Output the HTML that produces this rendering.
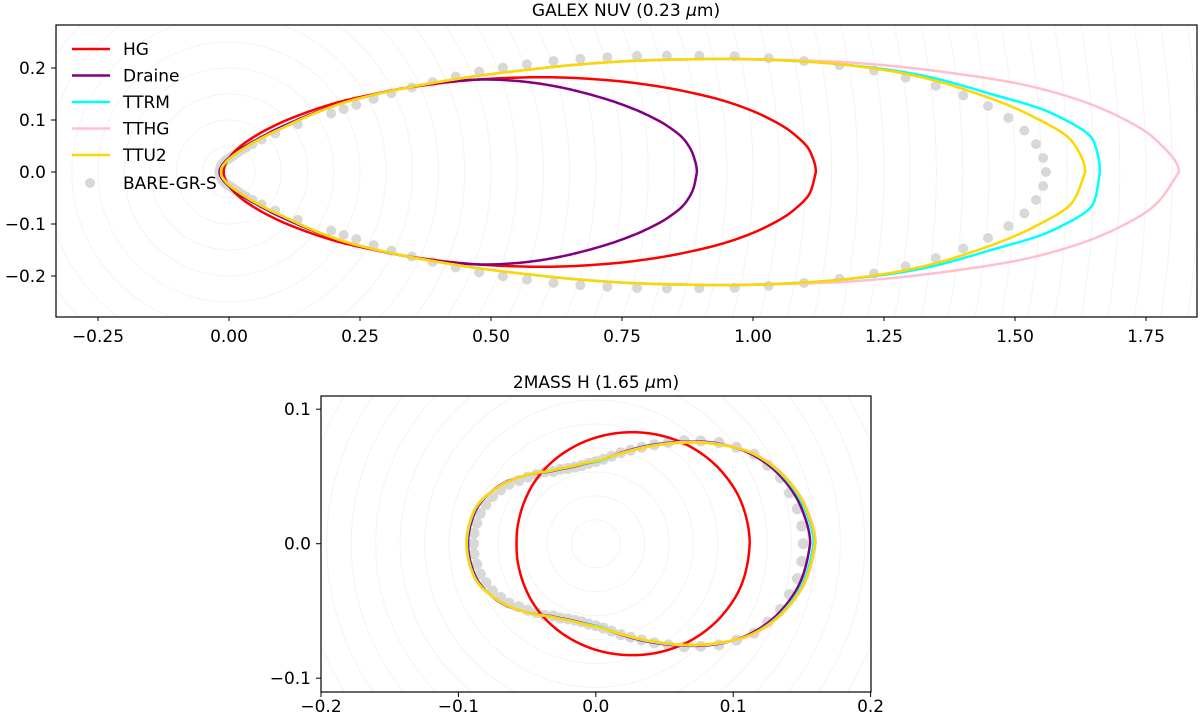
<!DOCTYPE html>
<html><head><meta charset="utf-8"><style>
html,body{margin:0;padding:0;background:#fff;overflow:hidden;width:1200px;height:719px;}
svg{display:block;font-family:"DejaVu Sans","Liberation Sans",sans-serif;}
</style></head><body>
<svg id="fig" width="1200" height="719" viewBox="0 0 1200 719" xmlns="http://www.w3.org/2000/svg">
<defs>
<clipPath id="clipTop"><rect x="56" y="25" width="1141" height="292"/></clipPath>
<clipPath id="clipBot"><rect x="321" y="396" width="550" height="296"/></clipPath>
</defs>
<text x="626" y="16" text-anchor="middle" font-size="17">GALEX NUV (0.23 <tspan font-style="italic">μ</tspan>m)</text>
<text x="596" y="388" text-anchor="middle" font-size="17">2MASS H (1.65 <tspan font-style="italic">μ</tspan>m)</text>
<g id="topGrid" clip-path="url(#clipTop)"></g>
<g id="botGrid" clip-path="url(#clipBot)"></g>
<g id="topMarks" clip-path="url(#clipTop)"></g>
<g id="botMarks" clip-path="url(#clipBot)"></g>
<rect x="56" y="25" width="1141" height="292" fill="none" stroke="#000" stroke-width="1.2"/>
<rect x="321" y="396" width="550" height="296" fill="none" stroke="#000" stroke-width="1.2"/>
<g id="ticks" font-size="17"></g>
<g id="legend" font-size="17"></g>
</svg>
<script>
// ---- Top panel data (GALEX NUV), radius vs scattering angle (deg) ----
const topAngles = [0,2,4,6,8,10,12,15,20,25,30,40,50,60,75,90,120,150,180];
const topHG     = [1.12,1.11,1.078,1.027,0.963,0.888,0.811,0.696,0.523,0.387,0.288,0.166,0.102,0.0676,0.0404,0.027,0.0153,0.0112,0.0101];
const topDraine = [0.893,0.887,0.872,0.842,0.802,0.757,0.71,0.64,0.52,0.39,0.28,0.14,0.08,0.055,0.035,0.027,0.02,0.018,0.018];
const topTTRM   = [1.662,1.652,1.58,1.455,1.335,1.19,1.04,0.83,0.56,0.39,0.28,0.13,0.075,0.05,0.033,0.025,0.018,0.016,0.015];
const topTTHG   = [1.813,1.77,1.68,1.55,1.38,1.21,1.04,0.83,0.56,0.39,0.28,0.13,0.075,0.05,0.033,0.025,0.018,0.016,0.015];
const topTTU2   = [1.634,1.612,1.537,1.437,1.325,1.19,1.04,0.83,0.56,0.39,0.28,0.13,0.075,0.05,0.033,0.025,0.018,0.016,0.015];
const topDotAngles = [0,1,2,3,4,5,6,7,8,9,10,11,12,13,14,15,16,17,18,19,20,21,22,23,24,25,26,27,28,29,30,35,40,45,50,55,60,65,70,75,80,85,90,95,100,105,110,115,120,125,130,135,140,145,150,155,160,165,170,175,180];
const topDots = [1.559,1.554,1.541,1.52,1.491,1.454,1.409,1.359,1.304,1.246,1.183,1.118,1.053,0.99,0.925,0.865,0.81,0.755,0.705,0.655,0.605,0.56,0.515,0.47,0.425,0.385,0.345,0.31,0.275,0.25,0.225,0.16,0.115,0.088,0.07,0.058,0.049,0.042,0.037,0.033,0.03,0.028,0.026,0.025,0.024,0.023,0.022,0.021,0.021,0.02,0.02,0.019,0.019,0.019,0.018,0.018,0.018,0.018,0.018,0.018,0.018];

// ---- Bottom panel data (2MASS H) ----
const botAngles   = [0,10,20,30,40,50,60,75,90,105,120,135,150,165,180];
const botHGAngles = [0,15,30,45,60,75,90,105,120,135,150,165,180];
const botHG     = [0.112,0.1105,0.1063,0.1003,0.0931,0.0857,0.0789,0.0729,0.0679,0.0638,0.0605,0.0585,0.0577];
const botDraine = [0.156,0.152,0.144,0.132,0.116,0.099,0.085,0.07,0.061,0.0595,0.0625,0.072,0.0835,0.091,0.093];
const botTTRM   = [0.1585,0.154,0.1455,0.133,0.1155,0.0985,0.0845,0.0695,0.061,0.0598,0.0628,0.072,0.0832,0.0918,0.0938];
const botTTHG   = [0.16,0.1555,0.1465,0.1335,0.1155,0.0985,0.0842,0.0697,0.0615,0.06,0.063,0.0722,0.0832,0.0922,0.0942];
const botTTU2   = [0.1595,0.155,0.146,0.133,0.115,0.098,0.084,0.0695,0.0615,0.06,0.063,0.072,0.083,0.092,0.094];
const botDotAngles = [0,5,10,15,20,25,30,35,40,45,50,55,60,65,70,75,80,85,90,95,100,105,110,115,120,125,130,135,140,145,150,155,160,165,170,175,180];
const botDots = [0.151,0.1505,0.149,0.146,0.143,0.138,0.133,0.125,0.117,0.108,0.1,0.092,0.085,0.079,0.074,0.07,0.066,0.063,0.061,0.06,0.059,0.059,0.0595,0.061,0.062,0.065,0.067,0.07,0.073,0.077,0.08,0.083,0.085,0.087,0.088,0.089,0.089];

// ---- Tick labels ----
const topXTicks = [-0.25,0,0.25,0.5,0.75,1.0,1.25,1.5,1.75];
const topXLabels = ["−0.25","0.00","0.25","0.50","0.75","1.00","1.25","1.50","1.75"];
const topYTicks = [-0.2,-0.1,0,0.1,0.2];
const topYLabels = ["−0.2","−0.1","0.0","0.1","0.2"];
const botXTicks = [-0.2,-0.1,0,0.1,0.2];
const botXLabels = ["−0.2","−0.1","0.0","0.1","0.2"];
const botYTicks = [-0.1,0,0.1];
const botYLabels = ["−0.1","0.0","0.1"];
const seriesNames = ["HG","Draine","TTRM","TTHG","TTU2"];
const seriesColors = ["#ff0000","#800080","#00ffff","#ffc0cb","#ffd700"];

const NS="http://www.w3.org/2000/svg";
const topX=v=>229+v*524, topY=v=>172-v*520;
const botX=v=>595.8+v*1374, botY=v=>543.7-v*1345;

function pchip(xs,ys){
  const n=xs.length,h=[],d=[],m=new Array(n);
  for(let i=0;i<n-1;i++){h[i]=xs[i+1]-xs[i];d[i]=(ys[i+1]-ys[i])/h[i];}
  m[0]=d[0];m[n-1]=d[n-2];
  for(let i=1;i<n-1;i++){
    if(d[i-1]*d[i]<=0)m[i]=0;
    else{const w1=2*h[i]+h[i-1],w2=h[i]+2*h[i-1];m[i]=(w1+w2)/(w1/d[i-1]+w2/d[i]);}
  }
  return x=>{
    let i=0;while(i<n-2&&x>xs[i+1])i++;
    const t=(x-xs[i])/h[i],t2=t*t,t3=t2*t;
    return (2*t3-3*t2+1)*ys[i]+(t3-2*t2+t)*h[i]*m[i]+(-2*t3+3*t2)*ys[i+1]+(t3-t2)*h[i]*m[i+1];
  };
}
function symInterp(angles,vals){
  const xs=[],ys=[];
  for(let i=angles.length-1;i>0;i--){xs.push(-angles[i]);ys.push(vals[i]);}
  for(let i=0;i<angles.length;i++){xs.push(angles[i]);ys.push(vals[i]);}
  for(let i=angles.length-2;i>=0;i--){xs.push(360-angles[i]);ys.push(vals[i]);}
  return pchip(xs,ys);
}
function curvePath(angles,vals,sx,sy){
  const f=symInterp(angles,vals),pts=[];
  for(let a=0;a<360;a+=0.25)pts.push([a,f(a)]);
  return pts.map((p,i)=>{const t=p[0]*Math.PI/180;return (i?"L":"M")+sx(p[1]*Math.cos(t)).toFixed(2)+","+sy(p[1]*Math.sin(t)).toFixed(2);}).join("")+"Z";
}
function grid(g,step,max,cx,cy,kx,ky){
  for(let r=step;r<max;r+=step){
    const e=document.createElementNS(NS,"ellipse");
    
    
    e.setAttribute("cx",cx);e.setAttribute("cy",cy);e.setAttribute("rx",r*kx);e.setAttribute("ry",r*ky);
    e.setAttribute("fill","none");e.setAttribute("stroke","#f3f3f3");e.setAttribute("stroke-width","1");
    g.appendChild(e);
  }
}
grid(document.getElementById("topGrid"),0.05,2.2,topX(0),topY(0),524,520);
grid(document.getElementById("botGrid"),0.0178,0.3,botX(0),botY(0),1374,1345);

function drawDots(g,angles,vals,sx,sy,rad){
  for(let s of [1,-1]){
    for(let i=0;i<angles.length;i++){
      if(s<0&&(angles[i]===0||angles[i]===180))continue;
      const t=s*angles[i]*Math.PI/180;
      const c=document.createElementNS(NS,"circle");
      
      
      c.setAttribute("cx",sx(vals[i]*Math.cos(t)));c.setAttribute("cy",sy(vals[i]*Math.sin(t)));
      c.setAttribute("r",rad);c.setAttribute("fill","#d8d8d8");
      g.appendChild(c);
    }
  }
}
function drawCurve(g,angles,vals,sx,sy,color,name){
  const p=document.createElementNS(NS,"path");
  
  
  p.setAttribute("d",curvePath(angles,vals,sx,sy));
  p.setAttribute("fill","none");p.setAttribute("stroke",color);p.setAttribute("stroke-width","2.5");p.setAttribute("stroke-linejoin","round");
  g.appendChild(p);
}
const tg=document.getElementById("topMarks"),bg=document.getElementById("botMarks");
drawDots(tg,topDotAngles,topDots,topX,topY,5);
const topSeries=[topHG,topDraine,topTTRM,topTTHG,topTTU2];
topSeries.forEach((v,i)=>drawCurve(tg,topAngles,v,topX,topY,seriesColors[i],"top-"+seriesNames[i].toLowerCase()+"-curve"));
drawDots(bg,botDotAngles,botDots,botX,botY,5.5);
drawCurve(bg,botHGAngles,botHG,botX,botY,seriesColors[0],"bottom-hg-curve");
[botDraine,botTTRM,botTTHG,botTTU2].forEach((v,i)=>drawCurve(bg,botAngles,v,botX,botY,seriesColors[i+1],"bottom-"+seriesNames[i+1].toLowerCase()+"-curve"));

const tk=document.getElementById("ticks");
function tick(x1,y1,x2,y2){
  const l=document.createElementNS(NS,"line");
  
  
  l.setAttribute("x1",x1);l.setAttribute("y1",y1);l.setAttribute("x2",x2);l.setAttribute("y2",y2);
  l.setAttribute("stroke","#000");l.setAttribute("stroke-width","1");tk.appendChild(l);
}
function label(x,y,txt,anchor,name){
  const t=document.createElementNS(NS,"text");
  
  
  t.setAttribute("x",x);t.setAttribute("y",y);t.setAttribute("text-anchor",anchor);t.textContent=txt;tk.appendChild(t);
}
topXTicks.forEach((v,i)=>{const x=topX(v);tick(x,317,x,321);label(x,342,topXLabels[i],"middle","top-x-tick-label");});
topYTicks.forEach((v,i)=>{const y=topY(v);tick(51,y,56,y);label(46,y+6,topYLabels[i],"end","top-y-tick-label");});
botXTicks.forEach((v,i)=>{const x=botX(v);tick(x,692,x,697);label(x,712,botXLabels[i],"middle","bottom-x-tick-label");});
botYTicks.forEach((v,i)=>{const y=botY(v);tick(316,y,321,y);label(311,y+6,botYLabels[i],"end","bottom-y-tick-label");});

const lg=document.getElementById("legend");
const rows=[49,75.5,102,128.5,155];
seriesNames.forEach((n,i)=>{
  const l=document.createElementNS(NS,"line");
  
  
  l.setAttribute("x1",72);l.setAttribute("x2",110);l.setAttribute("y1",rows[i]);l.setAttribute("y2",rows[i]);
  l.setAttribute("stroke",seriesColors[i]);l.setAttribute("stroke-width","2.5");lg.appendChild(l);
  const t=document.createElementNS(NS,"text");
  
  
  t.setAttribute("x",123);t.setAttribute("y",rows[i]+6);t.textContent=n;lg.appendChild(t);
});
const ld=document.createElementNS(NS,"circle");


ld.setAttribute("cx",90);ld.setAttribute("cy",183);ld.setAttribute("r",5);ld.setAttribute("fill","#d8d8d8");lg.appendChild(ld);
const lt=document.createElementNS(NS,"text");


lt.setAttribute("x",123);lt.setAttribute("y",189);lt.textContent="BARE-GR-S";lg.appendChild(lt);
</script>
</body></html>
